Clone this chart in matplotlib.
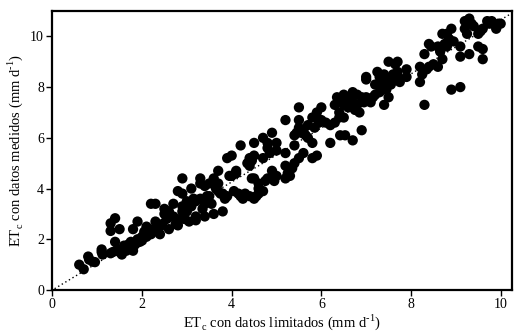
import numpy as np
import matplotlib
matplotlib.use('Agg')
import matplotlib.pyplot as plt

plt.rcParams['font.family'] = ['Liberation Serif', 'DejaVu Serif']
plt.rcParams['mathtext.fontset'] = 'custom'
plt.rcParams['mathtext.rm'] = 'Liberation Serif'

# ET_c con datos limitados (x) vs ET_c con datos medidos (y)
et_lim = [
    0.6, 0.7, 0.8, 0.82, 0.9, 0.95,
    1.1, 1.1, 1.12, 1.3, 1.3, 1.4, 1.3, 1.35, 1.4, 1.5, 1.5, 1.45,
    1.55, 1.6, 1.6, 1.65, 1.7, 1.7, 1.75, 1.8, 1.8, 1.8, 1.9, 1.9, 1.95, 1.85,
    2.0, 2.0, 2.05, 2.1, 2.1, 2.15, 2.2, 2.2, 2.3, 2.3, 2.25, 2.4, 2.4, 2.35, 2.45, 2.5, 2.5,
    2.55, 2.6, 2.6, 2.65, 2.7, 2.7, 2.75, 2.8, 2.8, 2.85, 2.9, 2.9, 2.9, 2.95, 2.9,
    3.0, 3.0, 3.05, 3.1, 3.1, 3.15, 3.2, 3.2, 3.2, 3.3, 3.3, 3.3, 3.35, 3.4, 3.4, 3.4, 3.45,
    3.5, 3.5, 3.55, 3.6, 3.6, 3.65, 3.7, 3.7, 3.7, 3.75, 3.8, 3.8, 3.85, 3.9, 3.9, 3.95,
    4.0, 4.0, 4.05, 4.1, 4.1, 4.15, 4.2, 4.2, 4.25, 4.3, 4.35, 4.4, 4.4, 4.4, 4.45, 4.45,
    4.5, 4.5, 4.5, 4.5, 4.55, 4.6, 4.6, 4.6, 4.7, 4.7, 4.7, 4.75, 4.8, 4.8, 4.8, 4.85, 4.9, 4.9, 4.9, 4.95,
    5.0, 5.0, 5.0, 5.2, 5.2, 5.2, 5.2, 5.25, 5.3, 5.35, 5.4, 5.4, 5.4, 5.45, 5.5, 5.5, 5.5, 5.5,
    5.55, 5.6, 5.6, 5.65, 5.7, 5.7, 5.8, 5.8, 5.8, 5.85, 5.9, 5.9, 5.95, 6.0, 6.0,
    6.1, 6.2, 6.2, 6.3, 6.3, 6.35, 6.4, 6.4, 6.4, 6.42, 6.5, 6.5, 6.53, 6.5,
    6.6, 6.6, 6.65, 6.7, 6.7, 6.7, 6.75, 6.8, 6.8, 6.85, 6.9, 6.9, 6.95, 7.0, 7.0, 7.0,
    7.1, 7.15, 7.2, 7.2, 7.25, 7.3, 7.3, 7.35, 7.4, 7.4, 7.4, 7.45, 7.5, 7.5, 7.5,
    7.55, 7.6, 7.6, 7.65, 7.7, 7.7, 7.7, 7.75, 7.9, 7.9,
    8.2, 8.2, 8.25, 8.3, 8.3, 8.35, 8.4, 8.4, 8.45, 8.5,
    8.6, 8.6, 8.65, 8.7, 8.7, 8.75, 8.8, 8.8, 8.85, 8.9, 8.9, 8.95,
    9.1, 9.1, 9.1, 9.2, 9.2, 9.25, 9.3, 9.3, 9.35, 9.4, 9.5, 9.5, 9.55, 9.6, 9.6, 9.6,
    9.7, 9.75, 9.8, 9.9, 9.95, 10.0,
]
et_med = [
    1.0, 0.82, 1.32, 1.2, 1.12, 1.1,
    1.6, 1.5, 1.4, 2.63, 2.33, 2.83, 1.45, 1.5, 1.9, 2.4, 1.5, 1.6,
    1.4, 1.6, 1.75, 1.55, 1.8, 1.65, 1.9, 1.7, 1.55, 2.4, 2.7, 2.0, 1.9, 1.8,
    2.1, 1.95, 2.3, 2.1, 2.5, 2.3, 2.2, 3.4, 3.4, 2.7, 2.4, 2.2, 2.5, 2.3, 2.6, 3.2, 3.0,
    2.8, 2.4, 3.1, 2.9, 3.4, 2.9, 2.6, 3.9, 2.55, 2.8, 3.8, 4.4, 3.3, 2.8, 3.1,
    3.5, 3.1, 2.7, 4.0, 3.3, 3.6, 2.9, 3.5, 2.75, 4.4, 4.2, 3.6, 3.2, 3.4, 4.1, 2.9, 3.7,
    4.2, 3.7, 3.4, 4.4, 3.0, 4.0, 4.7, 4.2, 3.9, 3.8, 3.1, 3.8, 3.6, 5.2, 3.7, 4.5,
    5.3, 4.5, 3.9, 4.6, 4.7, 3.8, 5.7, 3.7, 3.6, 3.8, 5.0, 5.2, 4.9, 3.7, 4.4, 5.1,
    5.3, 5.8, 4.4, 3.6, 3.7, 4.0, 3.8, 4.2, 5.2, 6.0, 3.9, 4.3, 4.4, 5.6, 5.8, 5.4, 6.2, 4.7, 4.4, 4.3,
    5.5, 5.8, 4.5, 4.4, 4.9, 5.4, 6.7, 4.6, 4.5, 4.8, 5.0, 5.7, 6.1, 6.2, 7.2, 6.7, 6.4, 5.2,
    6.2, 5.4, 6.3, 6.1, 6.5, 6.0, 6.8, 5.8, 5.2, 6.4, 5.3, 7.0, 6.6, 7.2, 6.7,
    6.6, 5.8, 6.5, 7.3, 6.6, 7.6, 7.0, 7.5, 6.8, 6.1, 7.3, 6.8, 6.1, 7.7,
    7.6, 7.2, 7.5, 7.8, 7.4, 5.9, 7.1, 7.7, 7.3, 7.0, 7.6, 6.3, 7.4, 7.6, 8.4, 8.3,
    7.4, 7.6, 7.7, 8.1, 8.6, 8.4, 7.8, 8.0, 8.2, 7.3, 8.5, 7.9, 7.6, 9.0, 8.3,
    8.1, 8.5, 8.3, 8.9, 9.0, 8.4, 8.6, 8.2, 8.7, 8.4,
    8.8, 8.2, 8.5, 7.3, 9.3, 8.7, 9.7, 8.8, 9.6, 8.9,
    9.6, 8.8, 9.4, 9.1, 10.1, 9.7, 9.6, 10.1, 9.9, 7.9, 10.3, 9.8,
    9.6, 9.2, 8.0, 10.6, 10.3, 10.1, 9.3, 10.7, 10.5, 10.4, 10.1, 9.6, 10.2, 9.5, 9.1, 10.3,
    10.6, 10.5, 10.6, 10.3, 10.5, 10.5,
]

# dotted reference line
line_x = [0.05, 10.25]
line_slope = 1.065

fig = plt.figure(figsize=(5.26, 3.33), dpi=100)
ax = fig.add_axes([0.0995, 0.129, 0.8745, 0.838])

ax.scatter(et_lim, et_med, s=55, color='black', edgecolors='none', zorder=3)
lx = np.array(line_x)
ax.plot(lx, line_slope * lx, color='black', linestyle=(0, (1, 2)), lw=1.0, zorder=2)

ax.set_xlim(0, 10.26)
ax.set_ylim(0, 11)
ax.set_xticks([0, 2, 4, 6, 8, 10])
ax.set_yticks([0, 2, 4, 6, 8, 10])

for s in ax.spines.values():
    s.set_linewidth(1.6)
ax.tick_params(direction='out', length=4, width=1, labelsize=10, pad=2)

ax.set_xlabel(r'ET$_\mathregular{c}$ con datos limitados (mm d$^{\text{-1}}$)', fontsize=10.5, labelpad=1)
ax.set_ylabel(r'ET$_\mathregular{c}$ con datos medidos (mm d$^{\text{-1}}$)', fontsize=10.5, labelpad=4)

fig.savefig('out.png', dpi=100)
